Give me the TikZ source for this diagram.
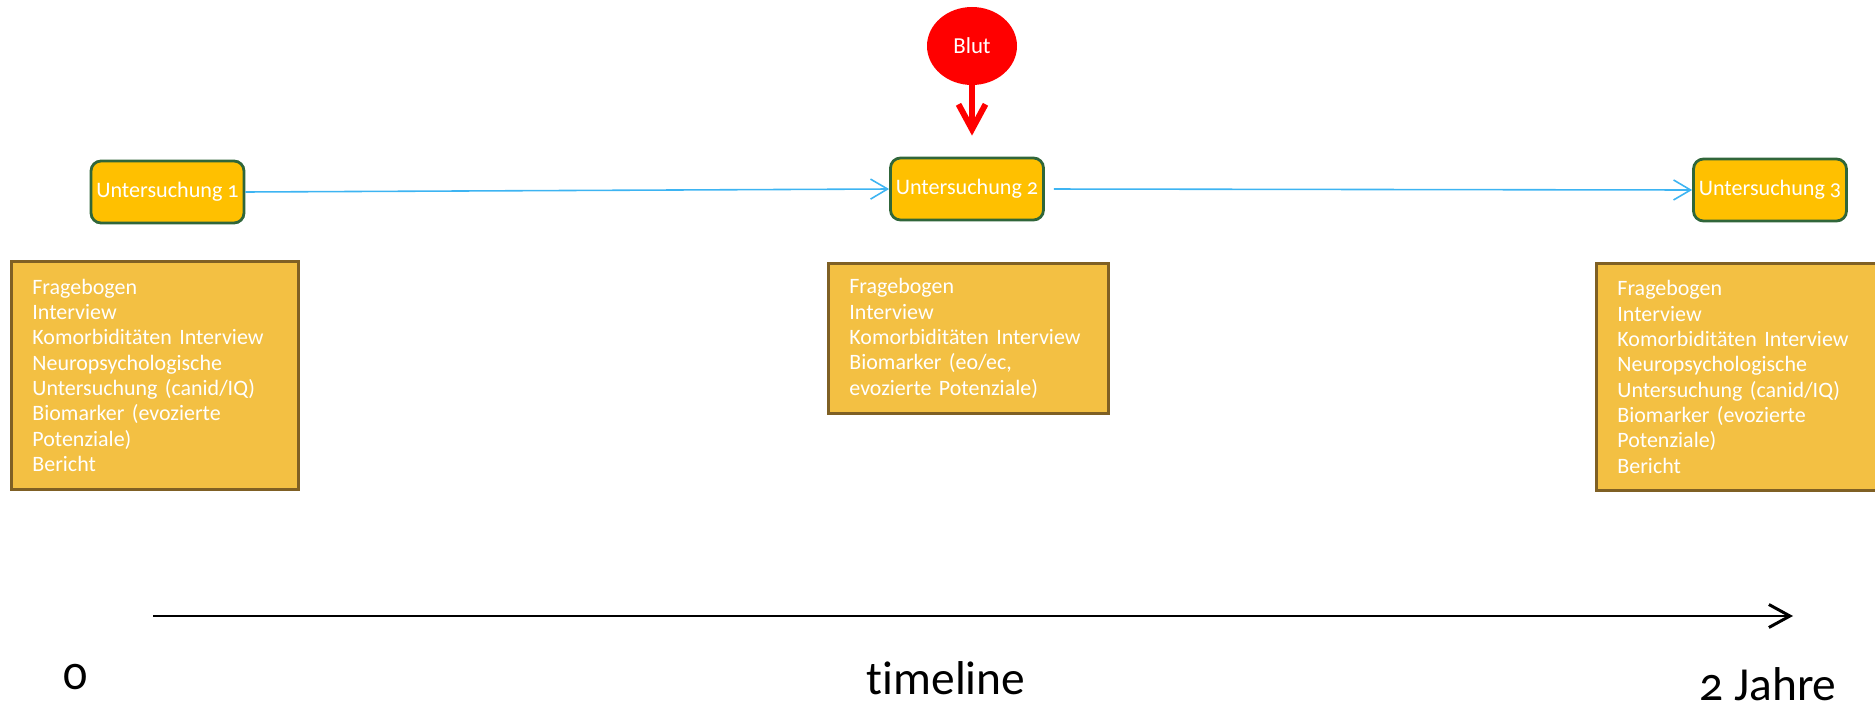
\documentclass[tikz,border=0pt]{standalone}
\usepackage{fontspec}
\setmainfont[Numbers=OldStyle,Ligatures=NoCommon]{Carlito}
\usepackage{tikz}
\usetikzlibrary{shapes.geometric,arrows.meta,positioning}
\definecolor{untfill}{HTML}{FFC000}
\definecolor{untrand}{HTML}{30663A}
\definecolor{infofill}{HTML}{F3C043}
\definecolor{inforand}{HTML}{7F6024}
\definecolor{pfeilblau}{HTML}{3DB4F2}
\tikzstyle{unt}=[rectangle, draw=untrand, rounded corners=2mm, line width=1.6pt, fill=untfill,
        text=white, minimum width=30.6mm, minimum height=12.4mm, inner sep=0pt, font=\fontsize{12.6}{14}\selectfont]
\tikzstyle{info}=[rectangle, draw=inforand, line width=1.6pt, fill=infofill, anchor=north west,
        text=white, align=left, inner xsep=4.2mm, inner ysep=0pt, font=\fontsize{12.5}{14.4}\selectfont]
\tikzstyle{blut}=[ellipse, fill=red, text=white, minimum width=18mm, minimum height=15.6mm, inner sep=0pt, font=\fontsize{13}{15}\selectfont]
\tikzstyle{zeit}=[font=\fontsize{27}{30}\selectfont, text=black]
\tikzstyle{blaupfeil}=[draw=pfeilblau, line width=0.9pt, -{Straight Barb[length=3.4mm,width=4mm]}]

\begin{document}
\begin{tikzpicture}[x=0.2mm, y=-0.2mm]
\useasboundingbox (0,0) rectangle (1875,711);
\clip (0,0) rectangle (1875,711);
\node [unt] (u1) at (167.5,192) {Untersuchung 1};
\node [unt] (u2) at (967,189) {Untersuchung 2};
\node [unt] (u3) at (1770,190) {Untersuchung 3};
\node [blut] (blut) at (972,46) {Blut};

\node [info, text width=49mm, minimum height=45.6mm] (info1) at (10,260) {Fragebogen\\Interview\\Komorbiditäten Interview\\Neuropsychologische\\Untersuchung (canid/IQ)\\Biomarker (evozierte\\Potenziale)\\Bericht};
\node [info, text width=47.6mm, minimum height=30mm] (info2) at (827,262) {Fragebogen\\Interview\\Komorbiditäten Interview\\Biomarker (eo/ec,\\evozierte Potenziale)};
\node [info, text width=49mm, minimum height=45.4mm] (info3) at (1595,262) {Fragebogen\\Interview\\Komorbiditäten Interview\\Neuropsychologische\\Untersuchung (canid/IQ)\\Biomarker (evozierte\\Potenziale)\\Bericht};

\draw [blaupfeil] (u1.east) -- (u2.west);
\draw [blaupfeil, shorten <=1.8mm] (u2.east) -- (u3.west);
\draw [red, line width=3.4pt, -{Straight Barb[length=5mm,width=5.4mm]}, shorten >=4.2mm] (blut.south) -- (blut.south |- u2.north);

% timeline
\coordinate (t0) at (153,616);
\coordinate (t1) at (1793,616);
\draw [line width=1.7pt, -{Straight Barb[length=4.2mm,width=4.6mm]}] (t0) -- (t1);
\node [zeit] (null) at (76,677) {0};
\node [zeit] (zeitachse) at (946,678) {timeline};
\node [zeit, inner ysep=1pt] (jahre) at (1768,684) {2 Jahre};
\end{tikzpicture}
\end{document}
